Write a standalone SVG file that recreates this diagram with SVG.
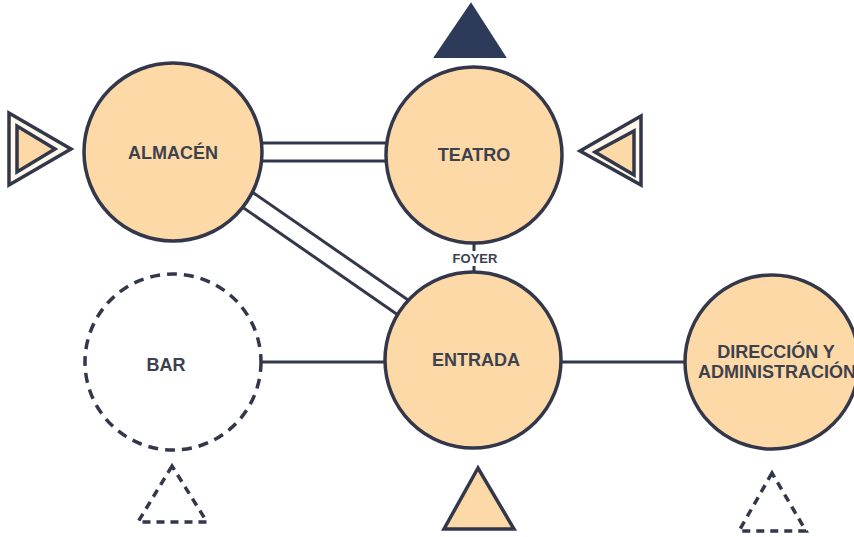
<svg xmlns="http://www.w3.org/2000/svg" width="854" height="537" viewBox="0 0 854 537">
<style>
.node{fill:#fdd9a8;stroke:#33374a;stroke-width:3.5}
.dash{fill:#ffffff;stroke:#33374a;stroke-width:3.5;stroke-dasharray:10 7}
.lbl{font-family:"Liberation Sans",Arial,sans-serif;font-weight:bold;font-size:18px;fill:#3d414d;text-anchor:middle}
.small{font-size:13px}
.road{stroke:#33374a;stroke-width:21;fill:none}
.roadin{stroke:#ffffff;stroke-width:15;fill:none}
.line{stroke:#33374a;stroke-width:3;fill:none}
.tri{fill:#fdd9a8;stroke:#33374a;stroke-width:3.5;stroke-linejoin:miter}
.trio{fill:#fff8ec;stroke:#33374a;stroke-width:3.5}
.trid{fill:none;stroke:#33374a;stroke-width:3.5;stroke-dasharray:8 6}
</style>
<rect width="854" height="537" fill="#ffffff"/>
<g id="connectors">
<line class="road" x1="173" y1="152" x2="474" y2="152"/>
<line class="roadin" x1="173" y1="152" x2="474" y2="152"/>
<line class="road" x1="173" y1="148" x2="473" y2="356"/>
<line class="roadin" x1="173" y1="148" x2="473" y2="356"/>
<line class="line" x1="474" y1="240" x2="474" y2="275"/>
<line class="line" x1="260" y1="362" x2="390" y2="362"/>
<line class="line" x1="558" y1="362" x2="690" y2="362"/>
</g>
<g id="foyer">
<rect x="448" y="251" width="54" height="15" fill="#ffffff"/>
<text class="lbl small" x="475" y="263">FOYER</text>
</g>
<g id="almacen">
<circle class="node" cx="173" cy="152" r="89"/>
<text class="lbl" x="173" y="159">ALMACÉN</text>
</g>
<g id="teatro">
<circle class="node" cx="474" cy="155" r="88"/>
<text class="lbl" x="474" y="161">TEATRO</text>
</g>
<g id="entrada">
<circle class="node" cx="473" cy="360" r="88"/>
<text class="lbl" x="476" y="366">ENTRADA</text>
</g>
<g id="bar">
<circle class="dash" cx="173" cy="362" r="88"/>
<text class="lbl" x="166" y="371">BAR</text>
</g>
<g id="direccion">
<circle class="node" cx="772" cy="362" r="87"/>
<text class="lbl" x="776" y="358">DIRECCIÓN Y</text>
<text class="lbl" x="777" y="378">ADMINISTRACIÓN</text>
</g>
<g id="tri-left">
<polygon class="trio" points="9,113 9,185 71,149"/>
<polygon class="tri" points="17,126 17,172 55,149"/>
</g>
<g id="tri-right">
<polygon class="trio" points="641,116 641,185 580,151"/>
<polygon class="tri" points="634,131 634,175 595,152"/>
</g>
<g id="tri-top">
<polygon points="471,4 435,57 505,57" fill="#2e3a59" stroke="#2e3a59" stroke-width="2"/>
</g>
<g id="tri-entrada">
<polygon class="tri" points="478,468 444,529 514,529"/>
</g>
<g id="tri-bar">
<polygon class="trid" points="172,466 138,522 207,522"/>
</g>
<g id="tri-dir">
<polygon class="trid" points="772,473 739,531 806,531"/>
</g>
</svg>
